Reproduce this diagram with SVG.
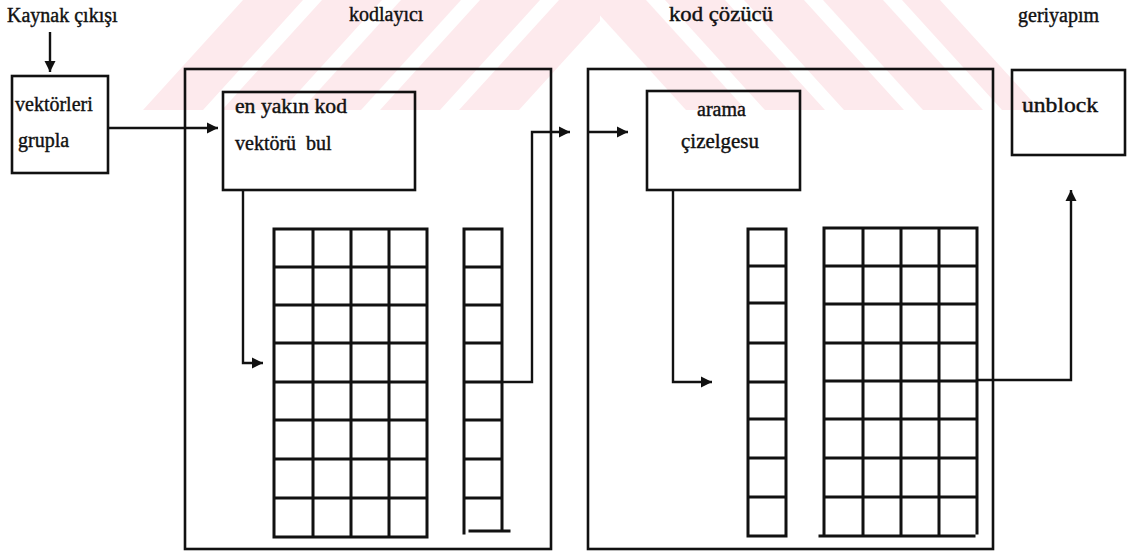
<svg xmlns="http://www.w3.org/2000/svg" width="1127" height="551" viewBox="0 0 1127 551">
  <style>
    .box { fill: none; stroke: #111; stroke-width: 2.6; }
    .grid { fill: none; stroke: #111; stroke-width: 3; stroke-linecap: square; }
    .wire { fill: none; stroke: #111; stroke-width: 2.4; }
    .lbl { font-family: "Liberation Serif", "Times New Roman", serif; font-size: 20px; fill: #111; stroke: #111; stroke-width: 0.4; white-space: pre; }
    .wm { fill: #fdeaed; }
  </style>
  <defs>
    <marker id="head" markerUnits="userSpaceOnUse" markerWidth="12" markerHeight="12" refX="11" refY="6" orient="auto">
      <path d="M0,0.5 L11,6 L0,11.5 z" fill="#111"/>
    </marker>
  </defs>

  <rect width="1127" height="551" fill="#fff"/>

  <!-- faint striped emblem across the top band -->
  <g id="emblem">
    <polygon class="wm" points="143,110 203,110 303,0 243,0"/>
    <polygon class="wm" points="222,110 282,110 382,0 322,0"/>
    <polygon class="wm" points="301,110 361,110 461,0 401,0"/>
    <polygon class="wm" points="380,110 440,110 540,0 480,0"/>
    <polygon class="wm" points="459,110 519,110 600,21 600,0 559,0"/>
    <polygon class="wm" points="586,0 646,0 746,110 686,110"/>
    <polygon class="wm" points="665,0 725,0 825,110 765,110"/>
    <polygon class="wm" points="744,0 804,0 904,110 844,110"/>
    <polygon class="wm" points="823,0 883,0 983,110 923,110"/>
    <polygon class="wm" points="902,0 940,0 1040,110 1002,110"/>
  </g>

  <!-- column headings -->
  <text class="lbl" x="7" y="22">Kaynak çıkışı</text>
  <text class="lbl" x="349" y="21">kodlayıcı</text>
  <text class="lbl" x="669" y="21" textLength="104" lengthAdjust="spacingAndGlyphs">kod çözücü</text>
  <text class="lbl" x="1018" y="22">geriyapım</text>

  <g id="grupla">
    <rect class="box" x="12" y="76" width="96" height="97"/>
    <text class="lbl" x="15" y="111">vektörleri</text>
    <text class="lbl" x="18" y="147">grupla</text>
  </g>

  <g id="kodlayici">
    <rect class="box" x="185" y="69" width="366" height="480"/>
  </g>

  <g id="en-yakin">
    <rect class="box" x="223" y="92" width="192" height="98"/>
    <text class="lbl" x="235" y="113" textLength="112" lengthAdjust="spacingAndGlyphs">en yakın kod</text>
    <text class="lbl" x="235" y="150">vektörü  bul</text>
  </g>

  <g id="kod-tablosu">
    <path class="grid" d="M274,229 H427 V537 H274 Z M313,229 V537 M351,229 V537 M389,229 V537 M274,267 H427 M274,305 H427 M274,343 H427 M274,382 H427 M274,420 H427 M274,459 H427 M274,498 H427"/>
  </g>

  <g id="indeks-sutunu">
    <path class="grid" d="M464,533 V229 H502 V531 M464,267 H502 M464,305 H502 M464,343 H502 M464,382 H502 M464,420 H502 M464,459 H502 M464,498 H502 M470,531 H509"/>
  </g>

  <g id="kod-cozucu">
    <rect class="box" x="588" y="69" width="405" height="480"/>
  </g>

  <g id="arama">
    <rect class="box" x="647" y="91" width="153" height="99"/>
    <text class="lbl" x="697" y="116">arama</text>
    <text class="lbl" x="681" y="148" textLength="78" lengthAdjust="spacingAndGlyphs">çizelgesu</text>
  </g>

  <g id="indeks-girisi">
    <path class="grid" d="M748,229 H786 V536 H748 Z M748,266 H786 M748,303 H786 M748,343 H786 M748,382 H786 M748,419 H786 M748,458 H786 M748,497 H786"/>
  </g>

  <g id="cozulen-tablo">
    <path class="grid" d="M824,533 V228 H977 V533 M863,228 V533 M901,228 V533 M939,228 V533 M824,266 H977 M824,304 H977 M824,343 H977 M824,381 H977 M824,419 H977 M824,458 H977 M824,497 H977 M820,536 H974"/>
  </g>

  <g id="unblock">
    <rect class="box" x="1012" y="70" width="113" height="85"/>
    <text class="lbl" x="1022" y="112" textLength="76" lengthAdjust="spacingAndGlyphs">unblock</text>
  </g>

  <g id="connectors">
    <path class="wire" d="M50,32 V72" marker-end="url(#head)"/>
    <path class="wire" d="M108,128 H218" marker-end="url(#head)"/>
    <path class="wire" d="M243,190 V363 H263" marker-end="url(#head)"/>
    <path class="wire" d="M502,382 H532 V132 H570" marker-end="url(#head)"/>
    <path class="wire" d="M589,132 H628" marker-end="url(#head)"/>
    <path class="wire" d="M673,190 V382 H712" marker-end="url(#head)"/>
    <path class="wire" d="M977,380 H1071 V190" marker-end="url(#head)"/>
  </g>
</svg>
